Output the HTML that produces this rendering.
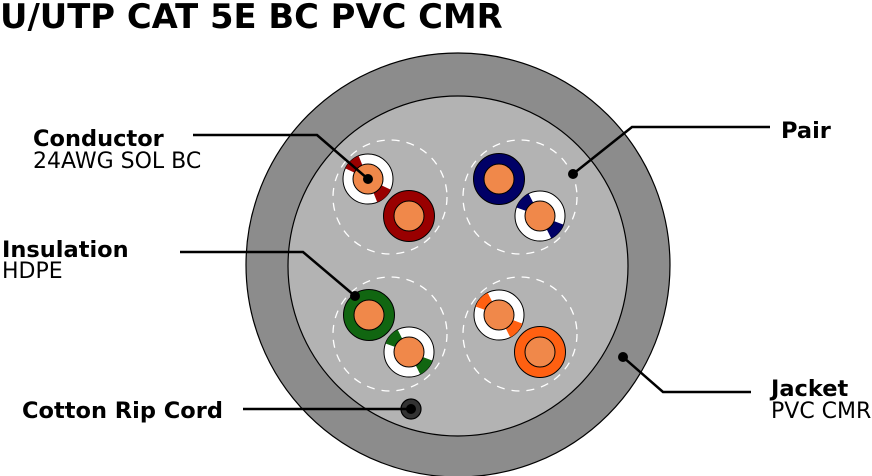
<!DOCTYPE html>
<html><head><meta charset="utf-8"><style>
html,body{margin:0;padding:0;background:#fff;}
svg{display:block}
text{font-family:"DejaVu Sans","Liberation Sans",sans-serif;fill:#000}
.b{font-weight:bold;font-size:22.5px}
.r{font-size:22px}
</style></head><body>
<svg width="872" height="476" viewBox="0 0 872 476">
<text x="0" y="28" style="font-weight:bold;font-size:33.8px">U/UTP CAT 5E BC PVC CMR</text>
<circle cx="458" cy="265" r="212" fill="#8c8c8c" stroke="#000" stroke-width="1.2"/>
<circle cx="458" cy="266" r="170" fill="#b3b3b3" stroke="#000" stroke-width="1.2"/>
<g fill="none" stroke="#fff" stroke-width="1.3" stroke-dasharray="8 7">
<circle cx="390" cy="197" r="57"/><circle cx="520" cy="197" r="57"/>
<circle cx="390" cy="334" r="57"/><circle cx="520" cy="334" r="57"/>
</g>
<g stroke="#000" stroke-width="1">
<circle cx="409" cy="216" r="25.5" fill="#990000"/><circle cx="409" cy="216" r="15" fill="#f0884a"/>
<circle cx="499" cy="179" r="25.5" fill="#000066"/><circle cx="499" cy="179" r="15" fill="#f0884a"/>
<circle cx="369" cy="315" r="25.5" fill="#116611"/><circle cx="369" cy="315" r="15" fill="#f0884a"/>
<circle cx="540" cy="352" r="25.5" fill="#ff6011"/><circle cx="540" cy="352" r="15" fill="#f0884a"/>
</g>
<g>
<g transform="translate(368,179)"><circle r="25" fill="#fff" stroke="#000"/><circle r="20" fill="none" stroke="#990000" stroke-width="10" stroke-dasharray="15 47.8" transform="rotate(-155)"/><circle r="15" fill="#f0884a" stroke="#000"/></g>
<g transform="translate(540,216)"><circle r="25" fill="#fff" stroke="#000"/><circle r="20" fill="none" stroke="#000066" stroke-width="10" stroke-dasharray="15 47.8" transform="rotate(-160)"/><circle r="15" fill="#f0884a" stroke="#000"/></g>
<g transform="translate(409,352)"><circle r="25" fill="#fff" stroke="#000"/><circle r="20" fill="none" stroke="#116611" stroke-width="10" stroke-dasharray="15 47.8" transform="rotate(-160)"/><circle r="15" fill="#f0884a" stroke="#000"/></g>
<g transform="translate(499,315)"><circle r="25" fill="#fff" stroke="#000"/><circle r="20" fill="none" stroke="#ff6011" stroke-width="10" stroke-dasharray="15 47.8" transform="rotate(-160)"/><circle r="15" fill="#f0884a" stroke="#000"/></g>
</g>
<circle cx="411" cy="409" r="10" fill="#333" stroke="#000" stroke-width="1.2"/>
<circle cx="411" cy="409" r="5" fill="#000"/>
<g fill="none" stroke="#000" stroke-width="2.5">
<polyline points="193,135 317,135 368,179"/>
<polyline points="770,127 632,127 573,174"/>
<polyline points="180,252 303,252 355,296"/>
<polyline points="243,409 411,409"/>
<polyline points="751,392 663,392 623,357"/>
</g>
<g fill="#000">
<circle cx="368" cy="179" r="5"/><circle cx="573" cy="174" r="5"/>
<circle cx="355" cy="296" r="5"/><circle cx="623" cy="357" r="5"/>
</g>
<text class="b" x="33" y="146">Conductor</text>
<text class="r" x="33" y="168">24AWG SOL BC</text>
<text class="b" x="2" y="257">Insulation</text>
<text class="r" x="2" y="278">HDPE</text>
<text class="b" x="22" y="418">Cotton Rip Cord</text>
<text class="b" x="781" y="138">Pair</text>
<text class="b" x="771" y="396">Jacket</text>
<text class="r" x="771" y="418">PVC CMR</text>
</svg>
</body></html>
